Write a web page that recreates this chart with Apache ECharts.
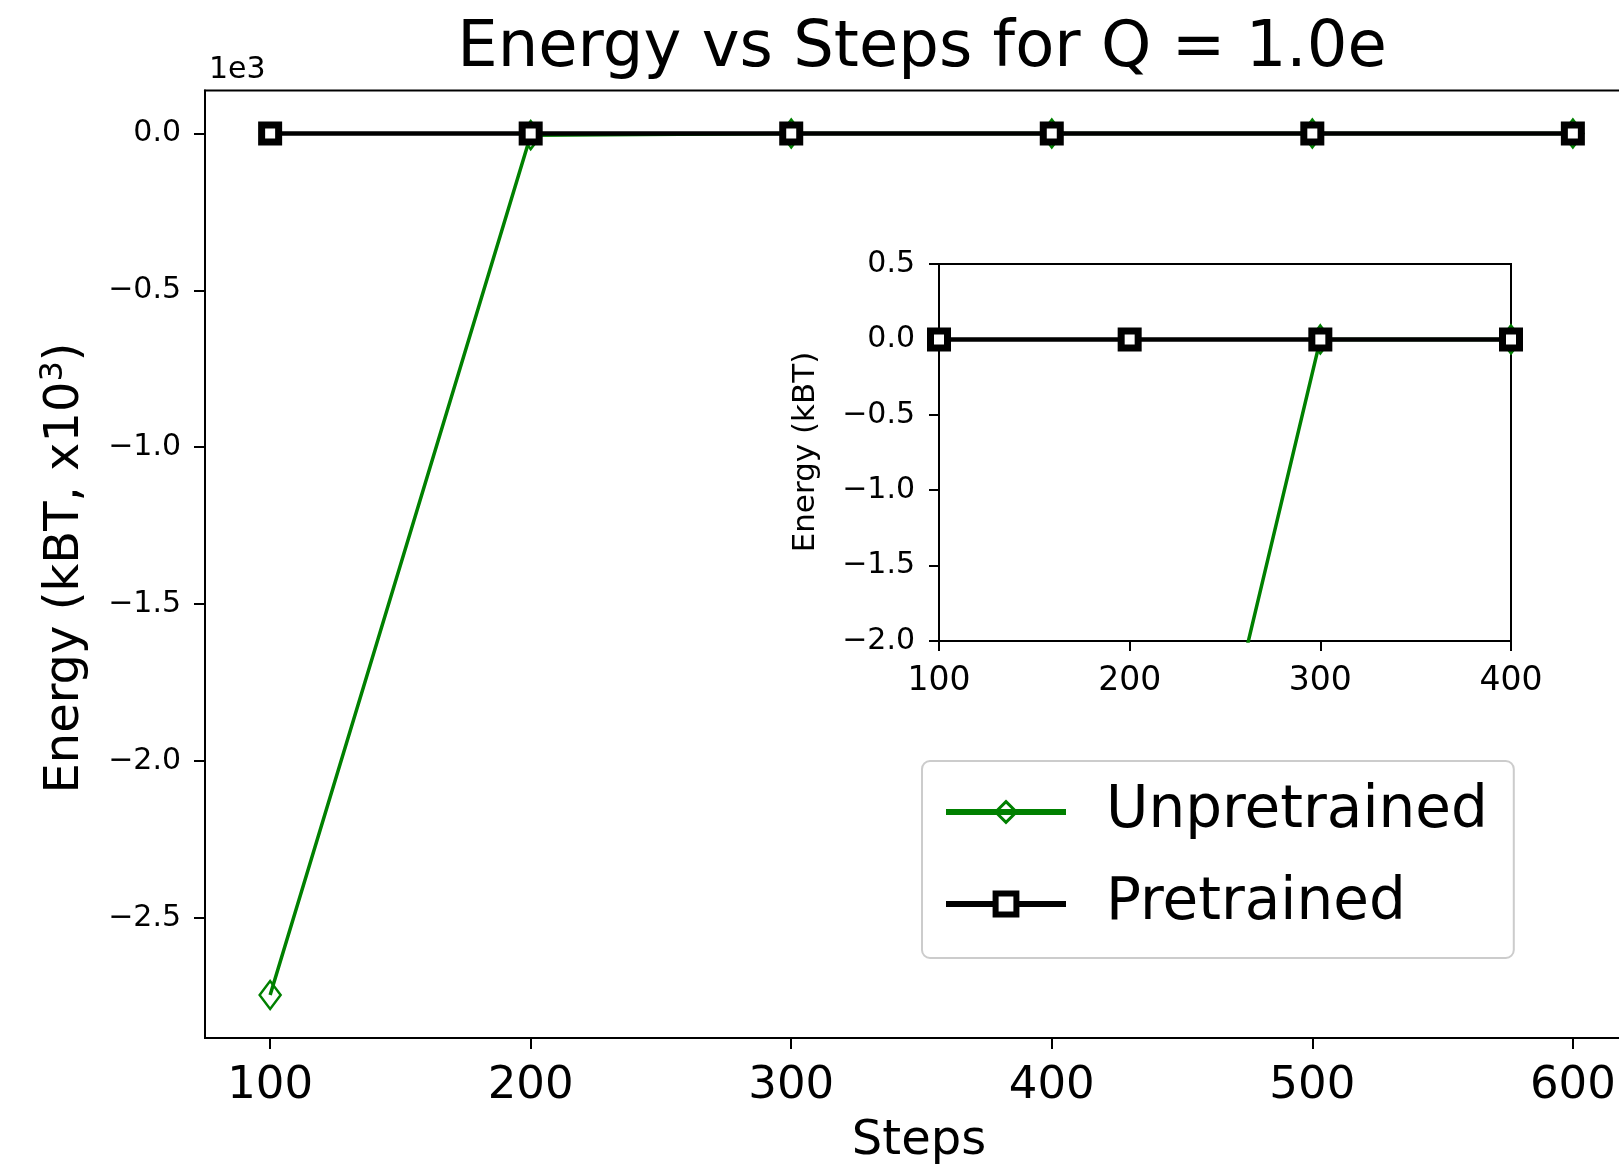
<!DOCTYPE html>
<html>
<head>
<meta charset="utf-8">
<script src="https://cdn.jsdelivr.net/npm/echarts@6/dist/echarts.min.js"></script>
<style>
  html, body { margin: 0; padding: 0; background: #fff; }
  #main { width: 1619px; height: 1174px; }
</style>
</head>
<body>
<div id="main"></div>
<script>
// values in kBT
const steps = [100, 200, 300, 400, 500, 600];
const unpretrained = [-2746, -5.3, 0.0, 0.0, 0.0, 0.0];
const pretrained = [0.0, 0.0, 0.0, 0.0, 0.0, 0.0];

const mainXTicks = [100, 200, 300, 400, 500, 600];
const mainYTicks = [-2500, -2000, -1500, -1000, -500, 0];

const FONT = 'DejaVu Sans';
const GREEN = '#008000';
const MINUS = '\u2212';

const fmt = (v, d) => {
    const s = Math.abs(v).toFixed(d);
    return (v < -1e-9 ? MINUS : '') + s;
};

const pairs = (ys) => steps.map((x, i) => [x, ys[i]]);

const chart = echarts.init(document.getElementById('main'));

const greenStyle = {
    type: 'line',
    symbol: 'diamond',
    symbolSize: [21, 28],
    lineStyle: { color: GREEN, width: 3.5 },
    itemStyle: { color: 'rgba(0,0,0,0)', borderColor: GREEN, borderWidth: 2.5 },
    clip: true,
    animation: false
};
const blackStyle = {
    type: 'line',
    symbol: 'rect',
    symbolSize: 17,
    lineStyle: { color: '#000', width: 4.5 },
    itemStyle: { color: '#fff', borderColor: '#000', borderWidth: 7 },
    clip: true,
    animation: false
};

const option = {
    backgroundColor: '#fff',
    animation: false,
    grid: [
        { left: 205, top: 90.5, right: -19, bottom: 136, show: true, borderColor: '#000', borderWidth: 2, outerBoundsMode: 'none' },
        { left: 939, top: 264, width: 572, height: 377, show: true, borderColor: '#000', borderWidth: 2, backgroundColor: '#fff', outerBoundsMode: 'none', z: 5 }
    ],
    xAxis: [
        {
            gridIndex: 0, type: 'value', min: 75, max: 625,
            splitLine: { show: false },
            axisLine: { show: true, onZero: false, lineStyle: { color: '#000', width: 2 } },
            axisTick: { show: true, length: 11, lineStyle: { color: '#000', width: 2 }, customValues: mainXTicks },
            axisLabel: { color: '#000', fontFamily: FONT, fontSize: 45, margin: 26, customValues: mainXTicks }
        },
        {
            gridIndex: 1, type: 'value', min: 100, max: 400, interval: 100,
            splitLine: { show: false },
            axisLine: { show: true, onZero: false, lineStyle: { color: '#000', width: 2 } },
            axisTick: { show: true, length: 10, lineStyle: { color: '#000', width: 2 } },
            axisLabel: { color: '#000', fontFamily: FONT, fontSize: 33, margin: 24, showMinLabel: true, showMaxLabel: true }
        }
    ],
    yAxis: [
        {
            gridIndex: 0, type: 'value', min: -2883, max: 137,
            splitLine: { show: false },
            axisLine: { show: true, onZero: false, lineStyle: { color: '#000', width: 2 } },
            axisTick: { show: true, length: 11, lineStyle: { color: '#000', width: 2 }, customValues: mainYTicks },
            axisLabel: { color: '#000', fontFamily: FONT, fontSize: 30, margin: 24, customValues: mainYTicks,
                formatter: (v) => fmt(v / 1000, 1) }
        },
        {
            gridIndex: 1, type: 'value', min: -2, max: 0.5, interval: 0.5,
            splitLine: { show: false },
            axisLine: { show: true, onZero: false, lineStyle: { color: '#000', width: 2 } },
            axisTick: { show: true, length: 10, lineStyle: { color: '#000', width: 2 } },
            axisLabel: { color: '#000', fontFamily: FONT, fontSize: 30, margin: 24,
                formatter: (v) => fmt(v, 1) }
        }
    ],
    legend: {
        left: 922, top: 761,
        orient: 'vertical',
        itemWidth: 120, itemHeight: 26,
        itemGap: 20,
        padding: [15, 26, 18, 21],
        backgroundColor: '#fff',
        borderColor: '#cccccc', borderWidth: 2, borderRadius: 8,
        textStyle: { color: '#000', fontFamily: FONT, fontSize: 58, lineHeight: 72, padding: [0, 0, 0, 35] },
        data: [
            { name: 'Unpretrained', lineStyle: { width: 6 }, itemStyle: { borderWidth: 3 } },
            { name: 'Pretrained', lineStyle: { width: 6 }, itemStyle: { borderWidth: 6 } }
        ],
        z: 10
    },
    series: [
        Object.assign({}, greenStyle, { name: 'Unpretrained', xAxisIndex: 0, yAxisIndex: 0, data: pairs(unpretrained) }),
        Object.assign({}, blackStyle, { name: 'Pretrained', xAxisIndex: 0, yAxisIndex: 0, data: pairs(pretrained) }),
        Object.assign({}, greenStyle, { name: 'Unpretrained', xAxisIndex: 1, yAxisIndex: 1, data: pairs(unpretrained), z: 6 }),
        Object.assign({}, blackStyle, { name: 'Pretrained', xAxisIndex: 1, yAxisIndex: 1, data: pairs(pretrained), z: 7 })
    ],
    graphic: [
        { type: 'text', x: 922, y: 49, style: { text: 'Energy vs Steps for Q = 1.0e', fill: '#000',
            font: '64px "DejaVu Sans"', textAlign: 'center', textVerticalAlign: 'middle' } },
        { type: 'text', x: 209, y: 70, style: { text: '1e3', fill: '#000',
            font: '30px "DejaVu Sans"', textAlign: 'left', textVerticalAlign: 'middle' } },
        { type: 'text', x: 919, y: 1142, style: { text: 'Steps', fill: '#000',
            font: '48px "DejaVu Sans"', textAlign: 'center', textVerticalAlign: 'middle' } },
        { type: 'text', x: 66, y: 568, rotation: Math.PI / 2, style: {
            text: 'Energy (kBT, x10{sup|3})', fill: '#000', fontFamily: FONT, fontSize: 48, lineHeight: 56,
            textAlign: 'center', textVerticalAlign: 'middle',
            rich: { sup: { fontSize: 32, fontFamily: FONT, fill: '#000', verticalAlign: 'top', lineHeight: 56 } } } },
        { type: 'text', x: 806, y: 452, rotation: Math.PI / 2, style: { text: 'Energy (kBT)', fill: '#000',
            font: '31px "DejaVu Sans"', textAlign: 'center', textVerticalAlign: 'middle' }, z: 10 }
    ]
};

chart.setOption(option);
</script>
</body>
</html>
